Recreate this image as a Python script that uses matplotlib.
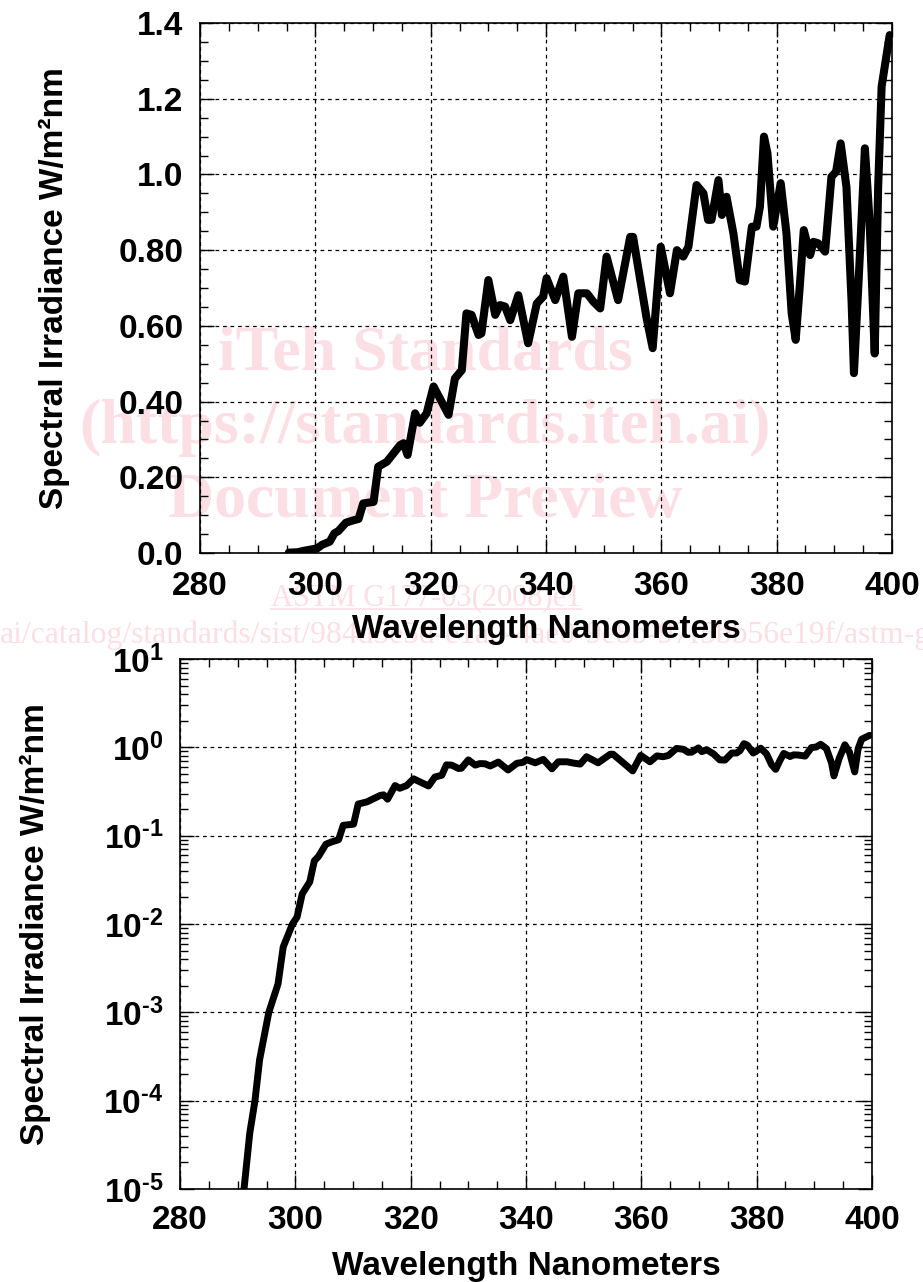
import matplotlib
matplotlib.use('Agg')
import matplotlib.pyplot as plt
import numpy as np
from matplotlib.ticker import FixedLocator, FixedFormatter, MultipleLocator, LogLocator, NullFormatter
from matplotlib.lines import Line2D

# ---------------- data ----------------
wavelength = [291.1, 292.1, 293.0, 293.8, 295.4, 297.0, 297.9, 299.5, 300.3, 301.2,
              302.5, 303.3, 304.0, 305.3, 306.3, 307.5, 308.3, 310.1, 310.9, 312.4,
              314.7, 315.3, 316.0, 317.3, 318.1, 319.3, 320.5, 323.1, 324.2, 325.4,
              326.2, 327.1, 328.3, 328.8, 330.0, 331.2, 332.0, 332.9, 333.8, 335.2,
              336.9, 338.4, 339.5, 340.1, 341.6, 343.0, 344.5, 345.6, 347.1, 348.2,
              349.4, 350.5, 352.5, 354.6, 355.1, 357.4, 358.5, 359.9, 361.5, 362.7,
              363.8, 364.7, 366.1, 367.3, 368.1, 368.7, 369.9, 370.5, 371.3, 372.5,
              373.6, 374.5, 375.7, 376.5, 377.1, 377.8, 378.4, 379.4, 380.7, 381.7,
              382.6, 383.3, 384.0, 384.7, 385.8, 386.4, 387.2, 388.4, 389.5, 390.3,
              391.1, 392.1, 393.0, 393.4, 394.3, 395.3, 396.1, 397.0, 397.6, 398.2,
              399.1, 399.6]
irradiance = [1.0e-5, 4.3e-5, 1.0e-4, 2.9e-4, 1.0e-3, 2.1e-3, 5.5e-3, 0.010, 0.012, 0.022,
              0.030, 0.052, 0.058, 0.080, 0.085, 0.090, 0.131, 0.135, 0.228, 0.241,
              0.285, 0.290, 0.259, 0.369, 0.344, 0.369, 0.440, 0.365, 0.461, 0.483,
              0.633, 0.629, 0.576, 0.580, 0.721, 0.629, 0.655, 0.651, 0.615, 0.681,
              0.554, 0.659, 0.677, 0.726, 0.668, 0.730, 0.571, 0.686, 0.686, 0.664,
              0.646, 0.783, 0.668, 0.835, 0.835, 0.624, 0.541, 0.809, 0.686, 0.800,
              0.783, 0.809, 0.972, 0.950, 0.880, 0.880, 0.985, 0.893, 0.941, 0.844,
              0.721, 0.717, 0.862, 0.862, 0.915, 1.100, 1.056, 0.862, 0.977, 0.844,
              0.633, 0.563, 0.703, 0.853, 0.787, 0.822, 0.818, 0.796, 0.994, 1.007,
              1.082, 0.967, 0.660, 0.475, 0.747, 1.069, 0.880, 0.527, 0.967, 1.232,
              1.320, 1.368]

x_ticks = [280, 300, 320, 340, 360, 380, 400]
x_tick_labels = ['280', '300', '320', '340', '360', '380', '400']
lin_y_ticks = [0.0, 0.2, 0.4, 0.6, 0.8, 1.0, 1.2, 1.4]
lin_y_tick_labels = ['0.0', '0.20', '0.40', '0.60', '0.80', '1.0', '1.2', '1.4']
log_y_ticks = [1e-5, 1e-4, 1e-3, 1e-2, 1e-1, 1e0, 1e1]
log_y_tick_labels = ['$10^{\u20105}$', '$10^{\u20104}$', '$10^{\u20103}$', '$10^{\u20102}$',
                     '$10^{\u20101}$', '$10^{0}$', '$10^{1}$']
x_label = 'Wavelength Nanometers'
y_label = 'Spectral Irradiance W/m\u00b2nm'

wm_lines = ['iTeh Standards', '(https://standards.iteh.ai)', 'Document Preview']
wm_astm = 'ASTM G177-03(2008)e1'
wm_url = 'ai/catalog/standards/sist/984d5e5d-e1a0-4ae0-9e8b-97f5bb56e19f/astm-g177-032008e1'

# ---------------- style ----------------
plt.rcParams.update({
    'font.family': ['Liberation Sans', 'DejaVu Sans'],
    'font.weight': 'bold',
    'mathtext.fontset': 'custom',
    'mathtext.rm': 'Liberation Sans:bold',
    'mathtext.it': 'Liberation Sans:bold',
    'mathtext.bf': 'Liberation Sans:bold',
})

W, H = 923, 1282
fig = plt.figure(figsize=(W / 100, H / 100), dpi=100)


def px_axes(l, t, r, b):
    return fig.add_axes([l / W, 1 - b / H, (r - l) / W, (b - t) / H])


ax1 = px_axes(200, 23, 892, 553)
ax2 = px_axes(180, 659, 872, 1189)

FS = 24


def style(ax, xpad, ypad):
    ax.set_facecolor('none')
    for s in ax.spines.values():
        s.set_linewidth(1.2)
    ax.tick_params(which='both', direction='in', top=True, right=True,
                   labelsize=FS, width=1.0)
    ax.tick_params(axis='x', which='major', pad=xpad)
    ax.tick_params(axis='y', which='major', pad=ypad)
    ax.tick_params(which='major', length=10)
    ax.tick_params(which='minor', length=6)
    ax.grid(True, which='major', color='black', linestyle=(0, (3, 3)), linewidth=0.9)
    ax.set_axisbelow(True)


wl = np.array(wavelength)
irr = np.array(irradiance)

# top: linear
top_mask = wl >= 295
ax1.plot(wl[top_mask], irr[top_mask], color='black', lw=5.8,
         solid_joinstyle='round', solid_capstyle='round')
ax1.set_xlim(280, 400)
ax1.set_ylim(0, 1.4)
ax1.xaxis.set_major_locator(FixedLocator(x_ticks))
ax1.xaxis.set_major_formatter(FixedFormatter(x_tick_labels))
ax1.xaxis.set_minor_locator(MultipleLocator(5))
ax1.yaxis.set_major_locator(FixedLocator(lin_y_ticks))
ax1.yaxis.set_major_formatter(FixedFormatter(lin_y_tick_labels))
ax1.yaxis.set_minor_locator(MultipleLocator(0.05))
style(ax1, 13, 12)

# bottom: log
ax2.plot(wl, irr, color='black', lw=5.0,
         solid_joinstyle='round', solid_capstyle='round')
ax2.set_yscale('log')
ax2.set_xlim(280, 400)
ax2.set_ylim(1e-5, 1e1)
ax2.xaxis.set_major_locator(FixedLocator(x_ticks))
ax2.xaxis.set_major_formatter(FixedFormatter(x_tick_labels))
ax2.xaxis.set_minor_locator(MultipleLocator(5))
ax2.yaxis.set_major_locator(FixedLocator(log_y_ticks))
ax2.yaxis.set_major_formatter(FixedFormatter(log_y_tick_labels))
ax2.yaxis.set_minor_locator(LogLocator(base=10, subs=np.arange(2, 10), numticks=20))
ax2.yaxis.set_minor_formatter(NullFormatter())
style(ax2, 11.5, 12)

# axis titles
fig.text(546 / W, 1 - 638 / H, x_label, ha='center', va='baseline', fontsize=FS, fontweight='bold')
fig.text(526 / W, 1 - 1275 / H, x_label, ha='center', va='baseline', fontsize=FS, fontweight='bold')
fig.text(54 / W, 1 - 288 / H, y_label, rotation=90, ha='center', va='center', fontsize=FS, fontweight='bold')
fig.text(35 / W, 1 - 924 / H, y_label, rotation=90, ha='center', va='center', fontsize=FS, fontweight='bold')

# watermark (behind axes content)
pink = '#fbdfe5'
for txt, base in zip(wm_lines, [370, 443, 517]):
    fig.text(425 / W, 1 - base / H, txt, ha='center', va='baseline', fontsize=46,
             family='Liberation Serif', fontweight='bold', color=pink, zorder=-1)
astm = fig.text(426 / W, 1 - 605 / H, wm_astm, ha='center', va='baseline', fontsize=22,
                family='Liberation Serif', fontweight='normal', color=pink, zorder=-1)
fig.text(0, 1 - 643 / H, wm_url, ha='left', va='baseline', fontsize=22.8,
         family='Liberation Serif', fontweight='normal', color=pink, zorder=-1)

fig.canvas.draw()
bb = astm.get_window_extent(fig.canvas.get_renderer())
uy = (1 - 609 / H)
fig.add_artist(Line2D([bb.x0 / W, bb.x1 / W], [uy, uy], color=pink, lw=1.2, zorder=-1))

fig.savefig('out.png', dpi=100, facecolor='white')
